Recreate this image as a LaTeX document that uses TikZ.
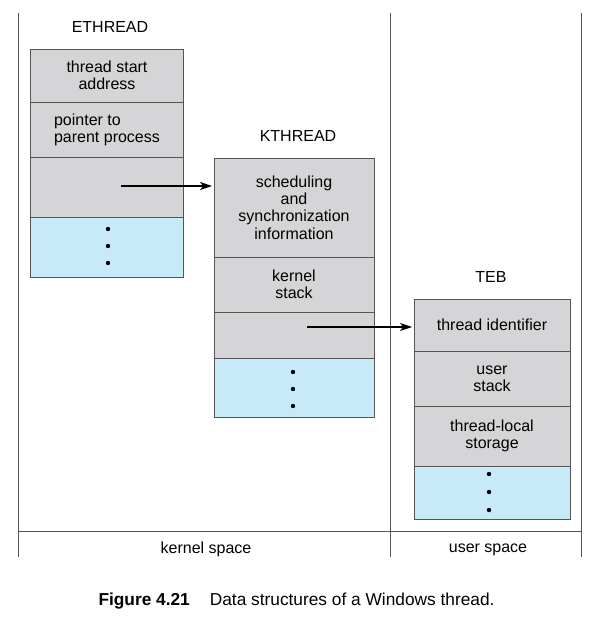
\documentclass[tikz,border=0pt]{standalone}
\usepackage{fontspec}
\setmainfont{Liberation Sans}
\usetikzlibrary{arrows.meta}
\definecolor{cellgray}{HTML}{D5D5D7}
\definecolor{cellblue}{HTML}{C8EAF8}
\definecolor{edge}{HTML}{555555}
\begin{document}
\begin{tikzpicture}[x=1pt,y=-1pt,
  every node/.style={font=\fontsize{16}{17.2}\selectfont},
  cell/.style={draw=edge,line width=0.9pt,fill=cellgray,inner sep=0pt,align=center},
  bluecell/.style={cell,fill=cellblue},
  dotmark/.style={circle,fill=black,inner sep=0pt,minimum size=4.4pt},
  ptr/.style={line width=1.2pt,-{Stealth[length=12pt,width=8pt,inset=3pt]}},
  frame/.style={draw=edge,line width=0.9pt}]
\useasboundingbox (0,0) rectangle (594,621);
% frame
\coordinate (fl1) at (18,13); \coordinate (fl2) at (18,557);
\coordinate (fm1) at (390,13); \coordinate (fm2) at (390,557);
\coordinate (fr1) at (581,13); \coordinate (fr2) at (581,557);
\coordinate (hl) at (18,531); \coordinate (hr) at (581,531);
\draw[frame] (fl1) -- (fl2);
\draw[frame] (fm1) -- (fm2);
\draw[frame] (fr1) -- (fr2);
\draw[frame] (hl) -- (hr);
\node (ks) at (206,549.5) {kernel space};
\node (us) at (488,549.5) {user space};
% ETHREAD
\node (eth) at (110,27) {ETHREAD};
\node[cell,minimum width=153pt,minimum height=53pt] (e1) at (107,75.5) {thread start\\address};
\node[cell,minimum width=153pt,minimum height=55pt,align=left] (e2) at (107,129.5) {pointer to\\parent process};
\node[cell,minimum width=153pt,minimum height=60pt] (e3) at (107,187) {};
\node[bluecell,minimum width=153pt,minimum height=60pt] (e4) at (107,247) {};
\node[dotmark] (ed1) at (108,229) {};
\node[dotmark] (ed2) at (108,246) {};
\node[dotmark] (ed3) at (108,263) {};
% KTHREAD
\node (kth) at (298,136) {KTHREAD};
\node[cell,minimum width=160pt,minimum height=99pt] (k1) at (294,207.5) {scheduling\\and\\synchronization\\information};
\node[cell,minimum width=160pt,minimum height=55pt] (k2) at (294,284.5) {kernel\\stack};
\node[cell,minimum width=160pt,minimum height=46pt] (k3) at (294,335) {};
\node[bluecell,minimum width=160pt,minimum height=59pt] (k4) at (294,387.5) {};
\node[dotmark] (kd1) at (293,372) {};
\node[dotmark] (kd2) at (293,389) {};
\node[dotmark] (kd3) at (293,406) {};
% TEB
\node (teb) at (491,277) {TEB};
\node[cell,minimum width=156pt,minimum height=52pt] (t1) at (492,325) {thread identifier};
\node[cell,minimum width=156pt,minimum height=55pt] (t2) at (492,378.5) {user\\stack};
\node[cell,minimum width=156pt,minimum height=60pt] (t3) at (492,436) {thread-local\\storage};
\node[bluecell,minimum width=156pt,minimum height=53pt] (t4) at (492,492.5) {};
\node[dotmark] (td1) at (489,474) {};
\node[dotmark] (td2) at (489,492) {};
\node[dotmark] (td3) at (489,510) {};
% pointers
\coordinate (p1) at (121,186);
\coordinate (p2) at (307,327);
\draw[ptr] (p1) -- ([xshift=-1.5pt]p1 -| k1.west);
\draw[ptr] (p2) -- ([xshift=-1.5pt]p2 -| t1.west);
% caption
\node[font=\fontsize{17.3}{20}\selectfont] (cap) at (296.5,601) {\textbf{Figure 4.21}\hspace{20pt}Data structures of a Windows thread.};
\end{tikzpicture}
\end{document}
